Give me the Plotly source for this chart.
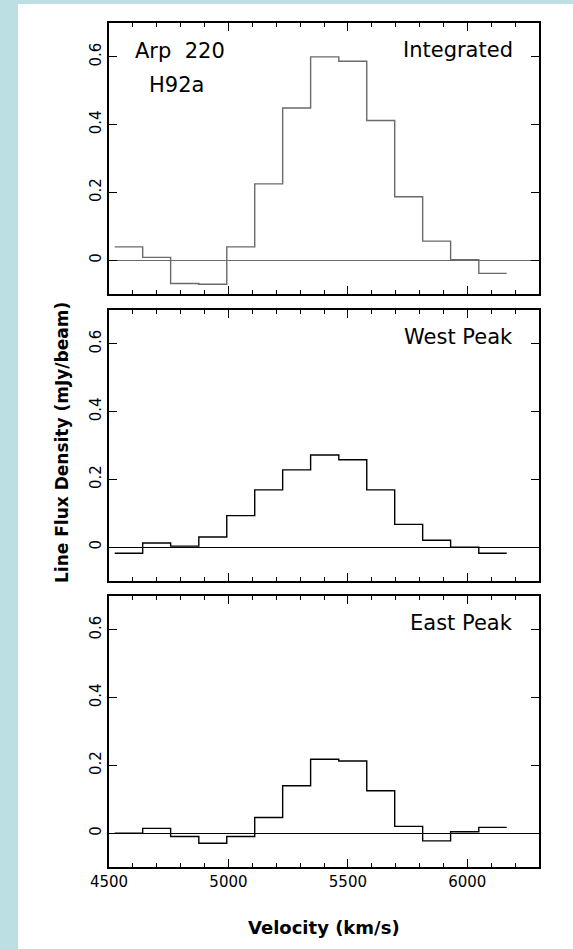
import plotly.graph_objects as go

# Channel edges of the H92a spectra (km/s)
vel_edges = [4524, 4641, 4758, 4876, 4993, 5110, 5227, 5344, 5462,
             5579, 5696, 5813, 5930, 6048, 6165]

# Line flux density per channel (mJy/beam)
integrated = [0.039, 0.008, -0.069, -0.071, 0.039, 0.225, 0.449, 0.600,
              0.587, 0.412, 0.187, 0.056, 0.001, -0.039]
west_peak = [-0.018, 0.012, 0.003, 0.030, 0.093, 0.169, 0.228, 0.272,
             0.258, 0.169, 0.067, 0.020, 0.000, -0.018]
east_peak = [0.000, 0.014, -0.010, -0.030, -0.010, 0.046, 0.140, 0.218,
             0.213, 0.125, 0.020, -0.023, 0.004, 0.017]

panel_titles = ["Integrated", "West Peak", "East Peak"]
x_ticks = [4500, 5000, 5500, 6000]
y_ticks = [0, 0.2, 0.4, 0.6]
y_ticktext = ["0", "0.2", "0.4", "0.6"]

W, H = 573, 949
ML, MR, MT, MB = 109, 34, 23, 82
FONT = "DejaVu Sans"
BG_BLUE = "#bcdfe3"
GREY = "#6a6a6a"

# panel domains (paper fraction, bottom -> top)
dom_bottom = [0.0, 0.3211]
dom_middle = [0.3389, 0.6600]
dom_top = [0.6789, 1.0]


def step_xy(values):
    return vel_edges, list(values) + [values[-1]]


fig = go.Figure()
series = [(integrated, "x3", "y3", GREY),
          (west_peak, "x2", "y2", "black"),
          (east_peak, "x", "y", "black")]
for vals, xa, ya, col in series:
    xs, ys = step_xy(vals)
    fig.add_trace(go.Scatter(x=xs, y=ys, mode="lines", line_shape="hv",
                             line=dict(color=col, width=1.4),
                             xaxis=xa, yaxis=ya, showlegend=False,
                             hoverinfo="skip"))

common_x = dict(range=[4500, 6300], tickvals=x_ticks, ticks="inside",
                ticklen=8, tickwidth=1.3, tickcolor="black",
                minor=dict(dtick=100, tick0=4500, ticks="inside",
                           ticklen=4, tickwidth=1.2, tickcolor="black"),
                showline=True, linecolor="black", linewidth=1.6,
                mirror="ticks", showgrid=False, zeroline=False,
                tickfont=dict(family=FONT, size=15, color="black"))
common_y = dict(range=[-0.1, 0.7], tickvals=y_ticks, ticktext=y_ticktext,
                ticks="inside", ticklen=8, tickwidth=1.3, tickcolor="black",
                tickangle=-90, showline=True, linecolor="black",
                linewidth=1.6, mirror="ticks", showgrid=False,
                zeroline=True, zerolinewidth=1.3,
                tickfont=dict(family=FONT, size=15, color="black"))

fig.update_layout(
    width=W, height=H,
    margin=dict(l=ML, r=MR, t=MT, b=MB, pad=0),
    paper_bgcolor="white", plot_bgcolor="white",
    xaxis=dict(common_x, anchor="y", domain=[0, 1]),
    xaxis2=dict(common_x, anchor="y2", domain=[0, 1], matches="x",
                showticklabels=False),
    xaxis3=dict(common_x, anchor="y3", domain=[0, 1], matches="x",
                showticklabels=False),
    yaxis=dict(common_y, anchor="x", domain=dom_bottom,
               zerolinecolor="black"),
    yaxis2=dict(common_y, anchor="x2", domain=dom_middle,
                zerolinecolor="black"),
    yaxis3=dict(common_y, anchor="x3", domain=dom_top,
                zerolinecolor=GREY),
)

# light-blue page border strips
px_x = lambda p: (p - ML) / (W - ML - MR)
px_y = lambda p: (H - MB - p) / (H - MT - MB)
fig.add_shape(type="rect", xref="paper", yref="paper", layer="below",
              x0=px_x(0), x1=px_x(18), y0=px_y(H), y1=px_y(0),
              fillcolor=BG_BLUE, line_width=0)
fig.add_shape(type="rect", xref="paper", yref="paper", layer="below",
              x0=px_x(0), x1=px_x(W), y0=px_y(4), y1=px_y(0),
              fillcolor=BG_BLUE, line_width=0)

ann_font = dict(family=FONT, size=21, color="black")
for title, xa in zip(panel_titles, ["x3", "x2", "x"]):
    ya = "y" + xa[1:]
    fig.add_annotation(text=title, xref=xa + " domain", yref=ya + " domain",
                       x=0.945, y=0.9, xanchor="right", yanchor="middle",
                       showarrow=False, font=ann_font)
fig.add_annotation(text="Arp  220", xref="x3 domain", yref="y3 domain",
                   x=0.165, y=0.895, xanchor="center", yanchor="middle",
                   showarrow=False, font=ann_font)
fig.add_annotation(text="H92a", xref="x3 domain", yref="y3 domain",
                   x=0.156, y=0.771, xanchor="center", yanchor="middle",
                   showarrow=False, font=ann_font)

title_font = dict(family=FONT, size=18, color="black")
fig.add_annotation(text="<b>Velocity (km/s)</b>", xref="paper", yref="paper",
                   x=0.5, y=px_y(927), xanchor="center", yanchor="middle",
                   showarrow=False, font=title_font)
fig.add_annotation(text="<b>Line Flux Density (mJy/beam)</b>", xref="paper",
                   yref="paper", x=px_x(62), y=px_y(443), textangle=-90,
                   xanchor="center", yanchor="middle", showarrow=False,
                   font=dict(family=FONT, size=17, color="black"))

fig.write_html("out.html")
